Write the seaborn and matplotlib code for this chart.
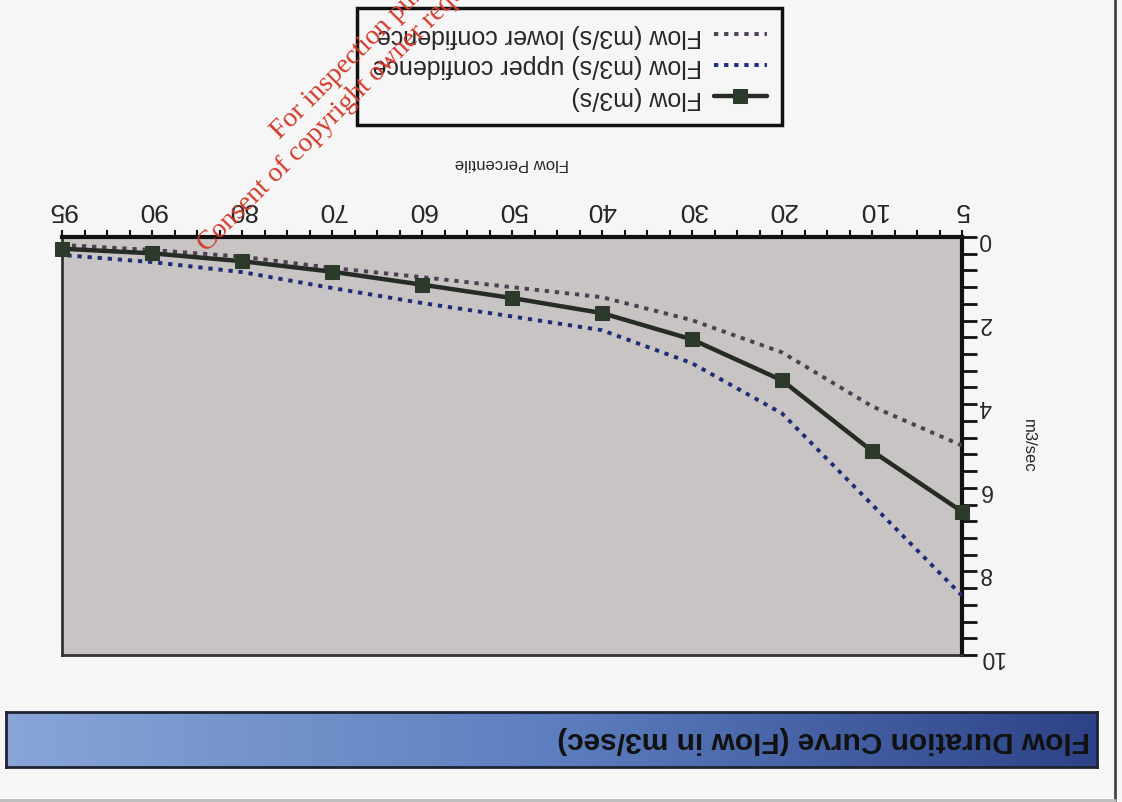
import numpy as np
import matplotlib.pyplot as plt
import seaborn as sns
from matplotlib.colors import LinearSegmentedColormap
from matplotlib.lines import Line2D
from matplotlib.ticker import MultipleLocator

percentiles = ['5', '10', '20', '30', '40', '50', '60', '70', '80', '90', '95']
flow = [6.57, 5.12, 3.43, 2.45, 1.82, 1.46, 1.14, 0.83, 0.58, 0.39, 0.28]
flow_upper = [8.58, 6.40, 4.22, 3.02, 2.23, 1.90, 1.58, 1.22, 0.84, 0.60, 0.43]
flow_lower = [4.99, 4.05, 2.76, 1.99, 1.44, 1.20, 0.96, 0.74, 0.47, 0.31, 0.19]
y_ticks = [0, 2, 4, 6, 8, 10]

title = 'Flow Duration Curve (Flow in m3/sec)'
watermark = ['For inspection purposes only.',
             'Consent of copyright owner required for any other use.']

sns.set_style('ticks')
plt.rcParams['font.family'] = ['Liberation Sans', 'DejaVu Sans']

W, H = 1122, 802
fig = plt.figure(figsize=(W / 100, H / 100), dpi=100, facecolor='#f6f6f6')

# main plot (page is rotated 180 degrees, so everything is flipped)
ax = fig.add_axes([62 / W, 1 - 655 / H, 900 / W, 418 / H])
ax.set_facecolor('#c7c4c3')

sns.lineplot(x=percentiles, y=flow, sort=False, ax=ax, color='#262b26', lw=3.2,
             marker='s', markersize=10, markeredgecolor='#2b3a2b',
             markerfacecolor='#2b3a2b', label='Flow (m3/s)', clip_on=False, zorder=4)
sns.lineplot(x=percentiles, y=flow_upper, sort=False, ax=ax, color='#1f2c78', lw=2.8,
             linestyle=(0, (1.1, 1.5)), label='Flow (m3/s) upper confidence', zorder=3)
sns.lineplot(x=percentiles, y=flow_lower, sort=False, ax=ax, color='#4e3f52', lw=2.8,
             linestyle=(0, (1.1, 1.5)), label='Flow (m3/s) lower confidence', zorder=3)

ax.set_xlim(10, 0)
ax.set_ylim(10, 0)
ax.set_yticks(y_ticks)
ax.yaxis.set_minor_locator(MultipleLocator(0.4))
ax.xaxis.set_minor_locator(MultipleLocator(0.25))
ax.xaxis.tick_top()
ax.xaxis.set_label_position('top')
ax.yaxis.tick_right()
ax.yaxis.set_label_position('right')
ax.tick_params(axis='x', which='both', direction='out', length=5, width=1.5,
               color='#111111', labelsize=19, labelrotation=180, pad=6)
ax.tick_params(axis='y', which='both', direction='out', length=11, width=2,
               color='#111111', labelsize=16.5, labelrotation=180, pad=1)

for side in ['top', 'right']:
    ax.spines[side].set_linewidth(3)
    ax.spines[side].set_color('#111111')
for side in ['left', 'bottom']:
    ax.spines[side].set_linewidth(2)
    ax.spines[side].set_color('#333333')

ax.set_xlabel('Flow Percentile', fontsize=12, rotation=180, labelpad=19)
ax.xaxis.label.set_va('bottom')
ax.set_ylabel('m3/sec', fontsize=12, rotation=270, labelpad=12)
ax.yaxis.label.set_va('bottom')

# legend, flipped
handles, labels = ax.get_legend_handles_labels()
if ax.get_legend() is not None:
    ax.get_legend().remove()
leg = fig.legend(handles[::-1], labels[::-1], loc='upper right',
                 bbox_to_anchor=(782 / W, 1 - 8 / H), borderaxespad=0,
                 markerfirst=False, fontsize=18, frameon=True, fancybox=False,
                 edgecolor='#111111', facecolor='#f6f6f6', framealpha=1,
                 borderpad=0.62, labelspacing=0.28, handlelength=2.1, handletextpad=0.5)
leg.get_frame().set_linewidth(2.5)
for t in leg.get_texts():
    t.set_rotation(180)

# title bar with blue gradient
bar_ax = fig.add_axes([6 / W, 1 - 767 / H, 1091 / W, 55 / H])
cmap = LinearSegmentedColormap.from_list('bar', ['#89a5d7', '#5d7fbf', '#2d4287'])
bar_ax.imshow(np.linspace(0, 1, 256).reshape(1, -1), aspect='auto', cmap=cmap,
              extent=(0, 1, 0, 1))
bar_ax.set_xticks([])
bar_ax.set_yticks([])
for s in bar_ax.spines.values():
    s.set_color('#1e2433')
    s.set_linewidth(2)
fig.text(1090 / W, 1 - 740 / H, title, rotation=180, ha='right', va='center',
         fontsize=21.5, fontweight='bold', color='#111111')

# page frame lines
fig.add_artist(Line2D([1115 / W, 1115 / W], [0, 1], transform=fig.transFigure,
                      color='#444444', lw=2))
fig.add_artist(Line2D([0, 1115 / W], [1 - 800 / H, 1 - 800 / H], transform=fig.transFigure,
                      color='#bbbbbb', lw=2))

# red watermark (cut by the top edge, as on the scanned page)
fig.text(280 / W, 1 - 140 / H, watermark[0], rotation=45, rotation_mode='anchor',
         ha='left', va='baseline', fontsize=20, color='#d23a2a',
         family=['Liberation Serif', 'DejaVu Serif'], zorder=10)
fig.text(207 / W, 1 - 253 / H, watermark[1], rotation=45, rotation_mode='anchor',
         ha='left', va='baseline', fontsize=20, color='#d23a2a',
         family=['Liberation Serif', 'DejaVu Serif'], zorder=10)

fig.savefig('out.png', dpi=100, facecolor=fig.get_facecolor())
